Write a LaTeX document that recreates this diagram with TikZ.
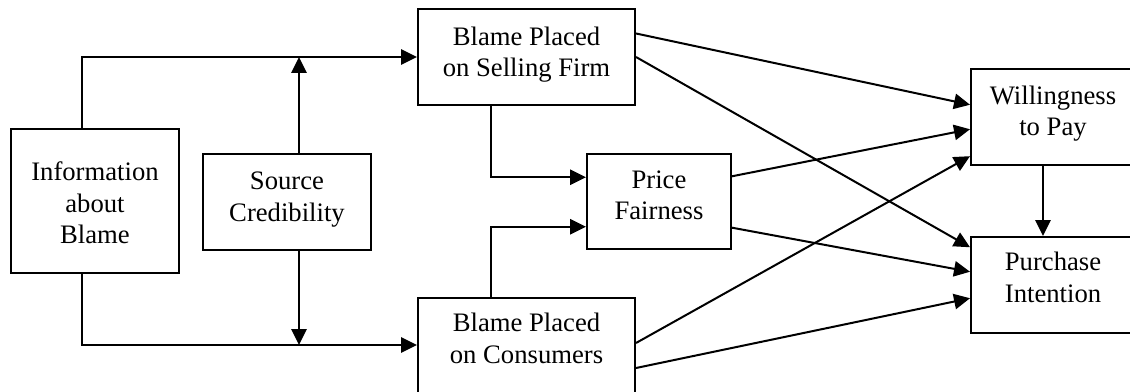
\documentclass[tikz,border=0pt]{standalone}
\usepackage{fontspec}
\setmainfont{Liberation Serif}
\usetikzlibrary{arrows.meta,calc}
\newcommand\boxtext[2]{\begin{tabular}{@{}c@{}}#1\\[#2]\end{tabular}}
\begin{document}
\begin{tikzpicture}[x=0.75pt,y=-0.75pt,
  box/.style={draw,line width=1.5pt,rectangle,inner sep=0pt,
    font=\fontsize{20}{23.6}\selectfont},
  arr/.style={line width=1.5pt,-{Triangle[length=12pt,width=11.5pt]}}]
\useasboundingbox (0,0) rectangle (1130,392);
\node[box,minimum width=126pt,minimum height=108pt] (info) at (95,201) {\boxtext{Information\\about\\Blame}{-7.5pt}};
\node[box,minimum width=126pt,minimum height=72pt] (src) at (287,202) {\boxtext{Source\\Credibility}{4.5pt}};
\node[box,minimum width=162.75pt,minimum height=72pt] (sell) at (526.5,57) {\boxtext{Blame Placed\\on Selling Firm}{3.75pt}};
\node[box,minimum width=162.75pt,minimum height=73.5pt] (cons) at (526.5,347) {\boxtext{Blame Placed\\on Consumers}{9pt}};
\node[box,minimum width=108pt,minimum height=71.25pt] (pf) at (659,201.5) {\boxtext{Price\\Fairness}{6pt}};
\node[box,minimum width=123pt,minimum height=72pt] (wtp) at (1053,117) {\boxtext{Willingness\\to Pay}{5pt}};
\node[box,minimum width=123pt,minimum height=72pt] (pi) at (1053,285) {\boxtext{Purchase\\Intention}{7pt}};
% info to blame boxes
\draw[arr] ([xshift=-9.75pt]info.north) |- (sell.west);
\draw[arr] ([xshift=-9.75pt]info.south) |- ([yshift=1.5pt]cons.west);
% source credibility
\coordinate (sc1) at ([xshift=9pt]src.north |- sell.west);
\coordinate (sc2) at ([xshift=9pt]src.south |- 0,345);
\draw[arr] ([xshift=9pt]src.north) -- (sc1);
\draw[arr] ([xshift=9pt]src.south) -- (sc2);
% to price fairness
\draw[arr] ($(sell.south west)!0.336!(sell.south east)$) |- ($(pf.north west)!0.25!(pf.south west)$);
\draw[arr] ($(cons.north west)!0.336!(cons.north east)$) |- ($(pf.north west)!0.76!(pf.south west)$);
% diagonals
\draw[arr] ($(sell.north east)!0.26!(sell.south east)$) -- ($(wtp.north west)!0.375!(wtp.south west)$);
\draw[arr] (sell.east) -- ($(pi.north west)!0.115!(pi.south west)$);
\draw[arr] ($(pf.north east)!0.24!(pf.south east)$) -- ($(wtp.north west)!0.625!(wtp.south west)$);
\draw[arr] ($(pf.north east)!0.77!(pf.south east)$) -- ($(pi.north west)!0.365!(pi.south west)$);
\draw[arr] ($(cons.north east)!0.46!(cons.south east)$) -- ($(wtp.north west)!0.9!(wtp.south west)$);
\draw[arr] ($(cons.north east)!0.71!(cons.south east)$) -- ($(pi.north west)!0.635!(pi.south west)$);
\draw[arr] ([xshift=-7.5pt]wtp.south) -- ([xshift=-7.5pt]pi.north);
\end{tikzpicture}
\end{document}
